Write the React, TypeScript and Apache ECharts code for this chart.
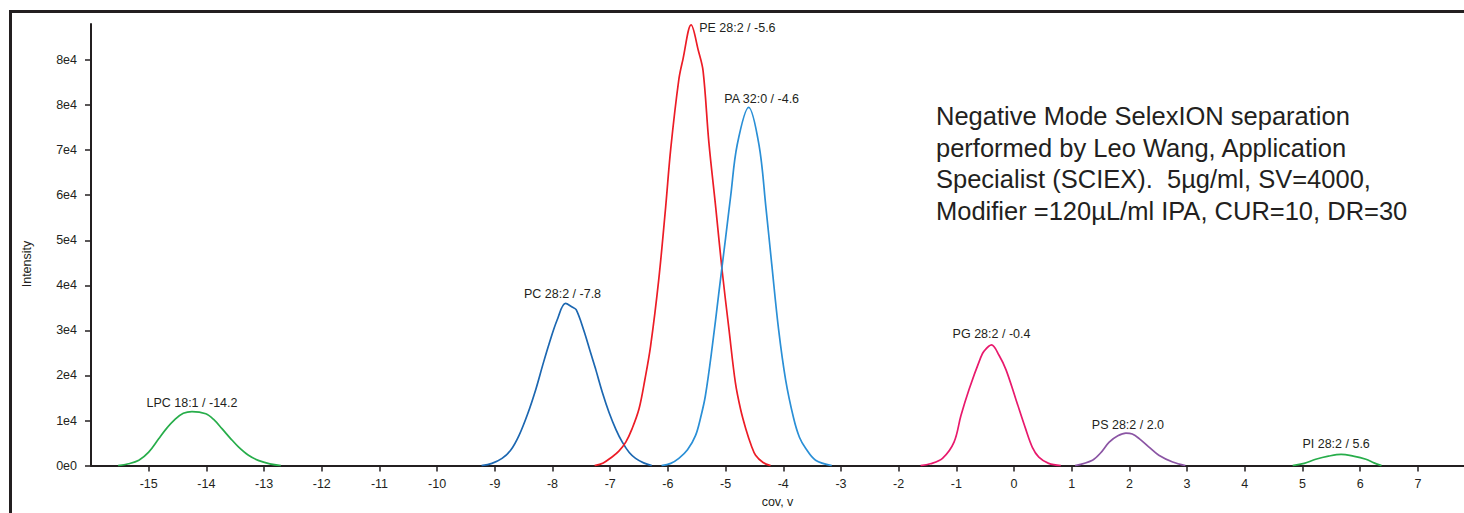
import React, { useEffect, useRef } from "react";
import * as echarts from "echarts";

// ---- data ----
const xTickValues = [-15, -14, -13, -12, -11, -10, -9, -8, -7, -6, -5, -4, -3, -2, -1, 0, 1, 2, 3, 4, 5, 6, 7];
const yTickValues = [0, 10000, 20000, 30000, 40000, 50000, 60000, 70000, 80000, 90000];
const yTickLabels = ["0e0", "1e4", "2e4", "3e4", "4e4", "5e4", "6e4", "7e4", "8e4", "8e4"];

const lpcCov = [-15.53, -15.35, -15.17, -15.0, -14.83, -14.7, -14.54, -14.4, -14.25, -14.01, -13.87, -13.73, -13.58, -13.44, -13.27, -13.09, -12.9, -12.71];
const lpcInt = [0, 400, 1200, 3000, 5900, 8100, 10300, 11600, 12000, 11500, 10200, 8200, 6000, 4100, 2300, 1100, 400, 0];

const pcCov = [-9.23, -9.05, -8.875, -8.72, -8.58, -8.43, -8.29, -8.17, -8.06, -7.92, -7.775, -7.66, -7.59, -7.46, -7.35, -7.25, -7.13, -7.02, -6.9, -6.79, -6.67, -6.56, -6.42, -6.28];
const pcInt = [0, 500, 1600, 3500, 6700, 11500, 16900, 22300, 27000, 32300, 36000, 35200, 34600, 30100, 25500, 21300, 16000, 11800, 8000, 5200, 2900, 1600, 600, 0];

const peCov = [-7.27, -7.12, -6.97, -6.85, -6.73, -6.62, -6.5, -6.4, -6.3, -6.16, -6.04, -5.95, -5.81, -5.74, -5.597, -5.47, -5.39, -5.29, -5.17, -5.06, -4.94, -4.83, -4.74, -4.65, -4.55, -4.48, -4.35, -4.22];
const peInt = [0, 600, 1900, 3200, 5200, 8200, 12600, 19000, 26500, 41100, 57200, 70400, 85700, 90100, 97800, 92000, 87600, 71800, 57200, 43300, 30100, 18400, 12500, 8200, 4300, 2300, 700, 0];

const paCov = [-6.11, -5.95, -5.81, -5.66, -5.52, -5.43, -5.35, -5.23, -5.12, -5.0, -4.91, -4.8, -4.6, -4.42, -4.3, -4.2, -4.08, -3.96, -3.82, -3.72, -3.61, -3.44, -3.16];
const paInt = [0, 500, 1600, 3500, 6700, 10800, 15500, 26500, 38000, 50500, 60000, 71100, 79500, 71100, 57200, 44700, 30100, 19100, 10500, 6300, 3800, 1200, 0];

const pgCov = [-1.62, -1.45, -1.24, -1.04, -0.92, -0.78, -0.58, -0.52, -0.39, -0.26, -0.14, 0.03, 0.2, 0.32, 0.43, 0.6, 0.81];
const pgInt = [0, 400, 1600, 5200, 11100, 16900, 23900, 25400, 26800, 24500, 21300, 14800, 8200, 4000, 1900, 500, 0];

const psCov = [1.06, 1.36, 1.5, 1.65, 1.8, 1.94, 2.05, 2.17, 2.34, 2.51, 2.75, 2.97];
const psInt = [0, 1200, 2800, 5200, 6600, 7200, 7000, 6000, 4100, 2300, 800, 0];

const piCov = [4.83, 5.03, 5.23, 5.45, 5.67, 5.88, 6.1, 6.24, 6.37];
const piInt = [0, 500, 1400, 2100, 2500, 2100, 1400, 600, 0];

const peakNames = ["LPC 18:1 / -14.2", "PC 28:2 / -7.8", "PE 28:2 / -5.6", "PA 32:0 / -4.6", "PG 28:2 / -0.4", "PS 28:2 / 2.0", "PI 28:2 / 5.6"];

const annotationLines = [
  "Negative Mode SelexION separation",
  "performed by Leo Wang, Application",
  "Specialist (SCIEX).  5µg/ml, SV=4000,",
  "Modifier =120µL/ml IPA, CUR=10, DR=30",
];

// ---- styling ----
const FONT = "'Liberation Sans', Arial, Helvetica, sans-serif";
const INK = "#231f20";

const peaks = [
  { name: peakNames[0], cov: lpcCov, int: lpcInt, color: "#27ad4a", label: { position: "top", distance: 2, offset: [0, 0] } },
  { name: peakNames[1], cov: pcCov, int: pcInt, color: "#1c67b1", label: { position: "top", distance: 3, offset: [-3, 0] } },
  { name: peakNames[2], cov: peCov, int: peInt, color: "#ec1c26", label: { position: "right", distance: 8, offset: [0, 3] } },
  { name: peakNames[3], cov: paCov, int: paInt, color: "#2a8fd6", label: { position: "top", distance: 2, offset: [13, 0] } },
  { name: peakNames[4], cov: pgCov, int: pgInt, color: "#e8196c", label: { position: "top", distance: 4, offset: [0, 0] } },
  { name: peakNames[5], cov: psCov, int: psInt, color: "#8b55a4", label: { position: "top", distance: 2, offset: [2, 0] } },
  { name: peakNames[6], cov: piCov, int: piInt, color: "#27ad4a", label: { position: "top", distance: 4, offset: [-5, 0] } },
];

export default function App() {
  const ref = useRef<HTMLDivElement>(null);

  useEffect(() => {
    if (!ref.current) return;
    const chart = echarts.init(ref.current, undefined, { renderer: "svg" });

    const series = peaks.map((p) => {
      let peakIdx = 0;
      p.int.forEach((v, i) => {
        if (v > p.int[peakIdx]) peakIdx = i;
      });
      return {
        type: "line",
        name: p.name,
        smooth: 0.35,
        symbol: "circle",
        symbolSize: 0,
        showSymbol: true,
        showAllSymbol: true,
        lineStyle: { color: p.color, width: 1.7 },
        itemStyle: { color: p.color },
        label: { show: false },
        emphasis: { disabled: true },
        data: p.cov.map((c, i) =>
          i === peakIdx
            ? {
                value: [c, p.int[i]],
                label: {
                  show: true,
                  formatter: p.name,
                  position: p.label.position,
                  distance: p.label.distance,
                  offset: p.label.offset,
                  color: INK,
                  fontSize: 12.5,
                  fontFamily: FONT,
                },
              }
            : { value: [c, p.int[i]] }
        ),
      };
    });

    const graphics: any[] = [
      { type: "line", shape: { x1: 10.5, y1: 11.5, x2: 10.5, y2: 513 }, style: { stroke: INK, lineWidth: 3 }, silent: true },
      { type: "line", shape: { x1: 9, y1: 11.5, x2: 1464, y2: 11.5 }, style: { stroke: INK, lineWidth: 3 }, silent: true },
      {
        type: "text",
        x: 26.7,
        y: 264,
        rotation: Math.PI / 2,
        style: { text: "Intensity", fill: INK, font: `12.5px ${FONT}`, align: "center", verticalAlign: "middle" },
        silent: true,
      },
    ];
    const lineCenters = [116, 147.7, 179.4, 211];
    annotationLines.forEach((t, i) => {
      graphics.push({
        type: "text",
        x: 936,
        y: lineCenters[i],
        style: { text: t, fill: INK, font: `25.5px ${FONT}`, align: "left", verticalAlign: "middle" },
        silent: true,
      });
    });

    chart.setOption({
      animation: false,
      backgroundColor: "#ffffff",
      grid: { left: 91, right: 0, top: 24, bottom: 42.5, containLabel: false },
      xAxis: {
        type: "value",
        min: -16,
        max: 7.8,
        interval: 1,
        name: "cov, v",
        nameLocation: "middle",
        nameGap: 26,
        nameTextStyle: { color: INK, fontSize: 12.5, fontFamily: FONT },
        axisLine: { show: true, onZero: false, lineStyle: { color: INK, width: 2 } },
        axisTick: { show: true, inside: false, length: 6, customValues: xTickValues, lineStyle: { color: INK, width: 1.5 } },
        axisLabel: {
          show: true,
          customValues: xTickValues,
          margin: 11.5,
          color: INK,
          fontSize: 12.5,
          fontFamily: FONT,
          formatter: (v: number) => String(v),
        },
        splitLine: { show: false },
      },
      yAxis: {
        type: "value",
        min: 0,
        max: 98000,
        interval: 10000,
        axisLine: { show: true, onZero: false, lineStyle: { color: INK, width: 2 } },
        axisTick: { show: true, inside: false, length: 6, customValues: yTickValues, lineStyle: { color: INK, width: 1.5 } },
        axisLabel: {
          show: true,
          customValues: yTickValues,
          margin: 14,
          color: INK,
          fontSize: 12.5,
          fontFamily: FONT,
          formatter: (v: number) => {
            const idx = yTickValues.indexOf(v);
            return idx >= 0 ? yTickLabels[idx] : "";
          },
        },
        splitLine: { show: false },
      },
      graphic: graphics,
      series,
    });

    return () => chart.dispose();
  }, []);

  return (
    <div
      ref={ref}
      style={{ position: "absolute", left: 0, top: 0, width: 1464, height: 513, background: "#fff" }}
    />
  );
}
